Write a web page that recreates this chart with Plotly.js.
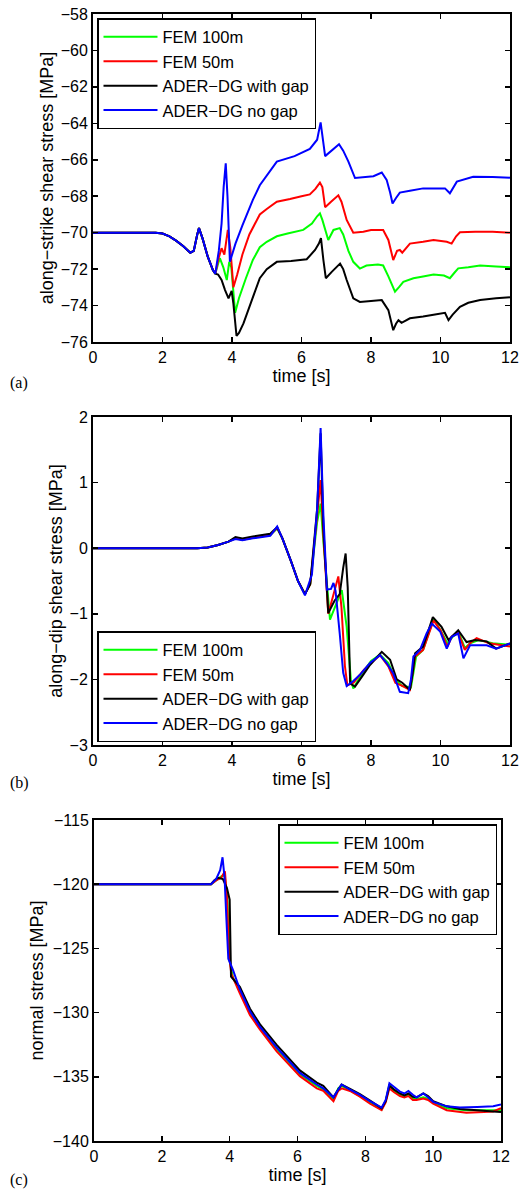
<!DOCTYPE html>
<html>
<head>
<meta charset="utf-8">
<script src="https://cdn.plot.ly/plotly-3.0.1.min.js"></script>
<style>html,body{margin:0;padding:0;background:#fff;}#chart{width:520px;height:1190px;}</style>
</head>
<body>
<div id="chart"></div>
<script>
// ---------- series names & colours ----------
const seriesNames = ["FEM 100m", "FEM 50m", "ADER\u2212DG with gap", "ADER\u2212DG no gap"];
const seriesColors = ["#00ff00", "#ff0000", "#000000", "#0000ff"];

// ---------- panel (a): along-strike shear stress [MPa] ----------
const a_fem100_t = [0,1.8,2.0,2.2,2.4,2.6,2.8,2.9,3.0,3.05,3.15,3.3,3.45,3.52,3.6,3.65,3.75,3.85,3.92,3.98,4.09,4.2,4.4,4.6,4.8,5.0,5.29,5.6,6.05,6.3,6.45,6.53,6.6,6.77,6.92,7.1,7.2,7.35,7.49,7.68,7.87,8.2,8.35,8.5,8.69,8.8,8.93,9.22,9.5,9.8,10.1,10.27,10.4,10.51,10.8,11.14,11.6,12];
const a_fem100_v = [-70,-70,-70.05,-70.2,-70.45,-70.75,-71.1,-71.0,-70.1,-69.75,-70.3,-71.3,-72.05,-72.25,-71.7,-71.4,-71.9,-72.6,-71.6,-71.9,-74.4,-73.6,-72.5,-71.5,-70.8,-70.5,-70.2,-70.05,-69.85,-69.5,-69.1,-68.94,-69.3,-70.4,-69.85,-69.75,-70.1,-71.0,-71.6,-71.97,-71.8,-71.75,-71.8,-72.4,-73.24,-73.0,-72.7,-72.5,-72.4,-72.3,-72.35,-72.5,-72.2,-71.96,-71.9,-71.8,-71.85,-71.9];

const a_fem50_t = [0,1.8,2.0,2.2,2.4,2.6,2.8,2.9,3.0,3.05,3.15,3.3,3.45,3.52,3.6,3.7,3.78,3.88,3.95,4.04,4.15,4.3,4.5,4.8,5.0,5.29,5.67,6.0,6.24,6.4,6.53,6.6,6.68,6.85,7.06,7.15,7.3,7.49,7.78,8.0,8.35,8.5,8.64,8.75,8.83,8.9,9.12,9.5,9.8,10.18,10.32,10.45,10.56,11.0,11.5,12];
const a_fem50_v = [-70,-70,-70.05,-70.2,-70.45,-70.75,-71.1,-71.0,-70.1,-69.75,-70.3,-71.3,-72.05,-72.25,-71.5,-70.85,-71.2,-69.85,-70.8,-73.0,-72.3,-71.2,-70.1,-69.0,-68.7,-68.3,-68.15,-68.0,-67.9,-67.6,-67.25,-67.5,-68.6,-68.3,-67.95,-68.3,-69.3,-70.0,-69.95,-69.85,-69.85,-70.4,-71.5,-71.0,-70.95,-71.1,-70.6,-70.5,-70.4,-70.5,-70.6,-70.2,-69.98,-69.95,-69.95,-70.0];

const a_gap_t = [0,1.8,2.0,2.2,2.4,2.6,2.8,2.9,3.0,3.05,3.15,3.3,3.45,3.52,3.6,3.7,3.8,3.9,3.99,4.04,4.13,4.2,4.33,4.61,4.8,5.0,5.29,5.7,6.15,6.39,6.5,6.56,6.63,6.7,6.87,7.11,7.2,7.3,7.49,7.68,8.0,8.31,8.5,8.64,8.72,8.79,8.88,9.12,9.5,9.8,10.13,10.23,10.35,10.56,10.8,11.14,11.6,12];
const a_gap_v = [-70,-70,-70.05,-70.2,-70.45,-70.75,-71.1,-71.0,-70.1,-69.75,-70.3,-71.3,-72.05,-72.25,-72.3,-72.6,-73.15,-73.6,-73.2,-73.9,-75.67,-75.5,-74.98,-73.5,-72.5,-72.0,-71.6,-71.55,-71.46,-70.95,-70.6,-70.3,-71.5,-72.5,-72.15,-71.7,-72.0,-72.6,-73.6,-73.8,-73.75,-73.7,-74.25,-75.35,-75.0,-74.8,-74.95,-74.7,-74.6,-74.5,-74.4,-74.8,-74.5,-74.07,-73.85,-73.7,-73.6,-73.55];

const a_nogap_t = [0,1.8,2.0,2.2,2.4,2.6,2.8,2.9,3.0,3.05,3.15,3.3,3.45,3.52,3.62,3.7,3.76,3.82,3.87,3.94,4.1,4.3,4.6,4.8,5.29,5.8,6.24,6.45,6.55,6.68,7.08,7.2,7.35,7.54,8.07,8.31,8.45,8.55,8.62,8.72,8.83,9.12,9.5,10.13,10.27,10.47,10.94,11.5,12];
const a_nogap_v = [-70,-70,-70.05,-70.2,-70.45,-70.75,-71.1,-71.0,-70.1,-69.75,-70.3,-71.3,-72.05,-72.25,-71.0,-69.5,-67.5,-66.2,-68.0,-71.6,-70.6,-69.6,-68.2,-67.4,-66.1,-65.8,-65.4,-64.9,-63.95,-65.8,-65.15,-65.5,-66.1,-67.0,-66.9,-66.7,-67.1,-67.8,-68.4,-68.1,-67.8,-67.7,-67.57,-67.57,-67.84,-67.2,-66.93,-66.95,-66.98];

// ---------- panel (b): along-dip shear stress [MPa] ----------
const b_fem100_t = [0,3.0,3.3,3.6,3.9,4.1,4.3,4.6,5.1,5.3,5.45,5.7,5.9,6.1,6.25,6.45,6.55,6.63,6.82,7.0,7.16,7.3,7.42,7.49,7.7,8.0,8.26,8.5,8.7,8.9,9.15,9.3,9.5,9.8,10.0,10.2,10.35,10.52,10.7,10.85,11.1,11.5,12];
const b_fem100_v = [0,0,0.01,0.05,0.1,0.15,0.13,0.16,0.2,0.3,0.15,-0.2,-0.5,-0.7,-0.55,0.4,0.68,0.1,-1.09,-0.85,-0.64,-1.2,-2.0,-2.14,-1.95,-1.72,-1.62,-1.75,-2.0,-2.1,-2.12,-1.65,-1.55,-1.08,-1.25,-1.45,-1.35,-1.28,-1.52,-1.45,-1.4,-1.45,-1.47];

const b_fem50_t = [0,3.0,3.3,3.6,3.9,4.1,4.3,4.6,5.1,5.3,5.45,5.7,5.9,6.1,6.25,6.45,6.55,6.63,6.77,6.95,7.06,7.15,7.25,7.32,7.5,7.8,8.0,8.26,8.5,8.7,8.9,9.12,9.27,9.5,9.8,10.0,10.2,10.32,10.5,10.7,10.85,11.04,11.4,12];
const b_fem50_v = [0,0,0.01,0.05,0.1,0.15,0.13,0.16,0.2,0.31,0.15,-0.2,-0.5,-0.7,-0.55,0.5,1.04,0.2,-1.0,-0.65,-0.43,-0.9,-1.8,-2.09,-2.05,-1.85,-1.75,-1.63,-1.8,-2.05,-2.1,-2.16,-1.65,-1.55,-1.1,-1.25,-1.5,-1.35,-1.28,-1.55,-1.45,-1.37,-1.45,-1.5];

const b_gap_t = [0,3.0,3.3,3.6,3.9,4.1,4.3,4.6,5.1,5.3,5.45,5.7,5.9,6.1,6.25,6.45,6.55,6.63,6.77,6.95,7.1,7.2,7.27,7.33,7.4,7.54,7.75,7.97,8.31,8.55,8.74,8.9,9.12,9.2,9.27,9.5,9.78,10.03,10.23,10.51,10.75,11.0,11.33,11.6,12];
const b_gap_v = [0,0,0.01,0.05,0.1,0.17,0.15,0.18,0.22,0.32,0.15,-0.2,-0.5,-0.7,-0.55,0.6,1.75,0.3,-0.99,-0.8,-0.7,-0.3,-0.08,-0.6,-2.06,-2.11,-1.95,-1.78,-1.58,-1.7,-2.0,-2.05,-2.16,-1.9,-1.6,-1.5,-1.05,-1.2,-1.4,-1.25,-1.43,-1.4,-1.42,-1.53,-1.45];

const b_nogap_t = [0,3.0,3.3,3.6,3.9,4.1,4.3,4.6,5.1,5.3,5.45,5.7,5.9,6.1,6.3,6.45,6.55,6.63,6.73,6.85,6.92,6.98,7.1,7.2,7.3,7.5,7.68,7.97,8.26,8.45,8.64,8.83,9.07,9.15,9.22,9.41,9.6,9.75,9.99,10.18,10.32,10.51,10.66,10.85,11.33,11.6,12];
const b_nogap_v = [0,0,0.01,0.05,0.1,0.14,0.12,0.15,0.19,0.33,0.15,-0.2,-0.5,-0.72,-0.4,0.6,1.83,0.5,-0.63,-0.62,-0.53,-0.65,-1.3,-1.9,-2.1,-2.02,-1.93,-1.75,-1.63,-1.75,-1.91,-2.19,-2.21,-2.0,-1.65,-1.55,-1.3,-1.15,-1.27,-1.53,-1.35,-1.3,-1.68,-1.48,-1.48,-1.53,-1.45];

// ---------- panel (c): normal stress [MPa] ----------
const c_fem100_t = [0,3.45,3.6,3.75,3.85,3.93,4.0,4.1,4.3,4.6,4.89,5.38,6.07,6.57,6.76,7.06,7.2,7.3,7.55,7.84,8.14,8.48,8.6,8.71,8.85,9.02,9.15,9.27,9.4,9.51,9.71,9.85,10.0,10.4,10.98,11.5,12];
const c_fem100_v = [-120,-120,-119.7,-119.4,-119.3,-121.0,-126.0,-127.3,-128.3,-130.0,-131.2,-132.8,-134.8,-135.7,-136.0,-136.8,-135.9,-135.7,-136.05,-136.5,-137.0,-137.55,-136.9,-135.6,-136.1,-136.4,-136.55,-136.4,-136.7,-136.75,-136.6,-136.7,-137.0,-137.45,-137.6,-137.6,-137.6];

const c_fem50_t = [0,3.45,3.6,3.75,3.86,3.92,3.98,4.05,4.3,4.6,4.89,5.38,6.07,6.57,6.76,7.06,7.2,7.3,7.55,7.84,8.14,8.48,8.6,8.71,8.85,9.02,9.15,9.27,9.4,9.51,9.71,9.85,10.0,10.4,10.98,11.5,11.77,12];
const c_fem50_v = [-120,-120,-119.7,-119.5,-119.0,-121.0,-125.5,-127.0,-128.5,-130.2,-131.3,-133.0,-134.95,-135.9,-136.1,-136.9,-136.1,-135.9,-136.1,-136.55,-137.1,-137.6,-137.0,-135.9,-136.2,-136.5,-136.6,-136.5,-136.8,-136.8,-136.7,-136.8,-137.1,-137.6,-137.8,-137.75,-137.7,-137.45];

const c_gap_t = [0,3.45,3.55,3.66,3.8,3.92,4.0,4.04,4.3,4.6,4.89,5.38,6.07,6.57,6.76,7.06,7.2,7.3,7.55,7.84,8.14,8.48,8.6,8.71,8.85,9.02,9.15,9.27,9.4,9.51,9.71,9.85,10.0,10.4,10.79,11.3,11.77,12];
const c_gap_v = [-120,-120,-119.7,-119.5,-119.6,-120.3,-121.2,-127.2,-128.0,-129.7,-130.9,-132.5,-134.5,-135.45,-135.7,-136.6,-136.0,-135.6,-135.95,-136.35,-136.85,-137.45,-136.9,-135.7,-136.0,-136.3,-136.45,-136.3,-136.55,-136.6,-136.3,-136.5,-136.9,-137.3,-137.5,-137.6,-137.7,-137.75];

const c_nogap_t = [0,3.45,3.6,3.72,3.79,3.85,3.9,3.96,4.1,4.3,4.6,4.89,5.38,6.07,6.57,6.76,7.06,7.15,7.3,7.55,7.84,8.14,8.48,8.6,8.71,8.85,9.02,9.15,9.27,9.4,9.51,9.71,9.85,10.0,10.4,10.79,11.3,11.77,12];
const c_nogap_v = [-120,-120,-119.6,-118.9,-117.9,-119.5,-122.5,-125.8,-126.7,-128.2,-129.9,-131.1,-132.7,-134.7,-135.6,-135.9,-136.6,-136.2,-135.6,-136.0,-136.4,-136.9,-137.4,-136.8,-135.5,-135.8,-136.15,-136.3,-136.1,-136.4,-136.6,-136.3,-136.6,-136.95,-137.3,-137.4,-137.35,-137.3,-137.15];

// ---------- axis tick settings ----------
const xTicks = [0,2,4,6,8,10,12];
const aTicks = [-76,-74,-72,-70,-68,-66,-64,-62,-60,-58];
const bTicks = [-3,-2,-1,0,1,2];
const cTicks = [-140,-135,-130,-125,-120,-115];

// ---------- build ----------
const panels = [
  {xa:'x',  ya:'y',  leg:'legend',  data:[[a_fem100_t,a_fem100_v],[a_fem50_t,a_fem50_v],[a_gap_t,a_gap_v],[a_nogap_t,a_nogap_v]]},
  {xa:'x2', ya:'y2', leg:'legend2', data:[[b_fem100_t,b_fem100_v],[b_fem50_t,b_fem50_v],[b_gap_t,b_gap_v],[b_nogap_t,b_nogap_v]]},
  {xa:'x3', ya:'y3', leg:'legend3', data:[[c_fem100_t,c_fem100_v],[c_fem50_t,c_fem50_v],[c_gap_t,c_gap_v],[c_nogap_t,c_nogap_v]]}
];
const traces = [];
panels.forEach(p => {
  p.data.forEach((d, i) => {
    traces.push({
      type:'scatter', mode:'lines', x:d[0], y:d[1],
      xaxis:p.xa, yaxis:p.ya, legend:p.leg,
      name:seriesNames[i],
      line:{color:seriesColors[i], width:2, simplify:false},
      showlegend:true
    });
  });
});

const W = 520, H = 1190;
const fontFam = 'Liberation Sans, Arial, Helvetica, sans-serif';
function px(x){return x/W;}
function py(y){return 1 - y/H;}
function axisBase(){
  return {showline:true, linecolor:'black', linewidth:2, mirror:'ticks', ticks:'inside', ticklen:5,
    tickwidth:1.5, tickcolor:'black', showgrid:false, zeroline:false,
    tickfont:{family:fontFam, size:16, color:'black'}, fixedrange:true};
}
function xaxis(d0,d1,anchor){
  return Object.assign(axisBase(), {domain:[px(d0),px(d1)], anchor:anchor, range:[0,12], tickvals:xTicks,
    title:{text:'time [s]', font:{family:fontFam, size:18, color:'black'}, standoff:0}});
}
function yaxis(top,bot,anchor,range,ticks,title,standoff){
  return Object.assign(axisBase(), {domain:[py(bot),py(top)], anchor:anchor, range:range, tickvals:ticks,
    title:{text:title, font:{family:fontFam, size:18, color:'black'}, standoff:standoff}});
}
function legend(x,y,xanchor,yanchor){
  return {x:px(x), y:py(y), xanchor:xanchor||'left', yanchor:yanchor||'top', xref:'paper', yref:'paper',
    bgcolor:'white', bordercolor:'black', borderwidth:1.5,
    font:{family:fontFam, size:16.5, color:'black'}, tracegroupgap:0, itemwidth:54};
}

const layout = {
  width:W, height:H, margin:{l:0,r:0,t:0,b:0}, paper_bgcolor:'white', plot_bgcolor:'white',
  showlegend:true,
  xaxis: xaxis(93,510,'y'),
  yaxis: yaxis(14,342,'x',[-76,-58],aTicks,'along\u2212strike shear stress [MPa]',2),
  xaxis2: xaxis(93,510,'y2'),
  yaxis2: yaxis(417,745,'x2',[-3,2],bTicks,'along\u2212dip shear stress [MPa]',2),
  xaxis3: xaxis(94,501,'y3'),
  yaxis3: yaxis(820,1141,'x3',[-140,-115],cTicks,'normal stress [MPa]',4),
  legend: legend(97,18),
  legend2: legend(97,742,'left','bottom'),
  legend3: legend(497,824,'right'),
  annotations:[
    {text:'(a)', xref:'paper', yref:'paper', x:px(8), y:py(383), xanchor:'left', yanchor:'middle', showarrow:false, font:{family:'Liberation Serif, Times New Roman, serif', size:16, color:'black'}},
    {text:'(b)', xref:'paper', yref:'paper', x:px(8), y:py(783), xanchor:'left', yanchor:'middle', showarrow:false, font:{family:'Liberation Serif, Times New Roman, serif', size:16, color:'black'}},
    {text:'(c)', xref:'paper', yref:'paper', x:px(8), y:py(1180), xanchor:'left', yanchor:'middle', showarrow:false, font:{family:'Liberation Serif, Times New Roman, serif', size:16, color:'black'}}
  ]
};
Plotly.newPlot('chart', traces, layout, {displayModeBar:false, staticPlot:true});
</script>
</body>
</html>
